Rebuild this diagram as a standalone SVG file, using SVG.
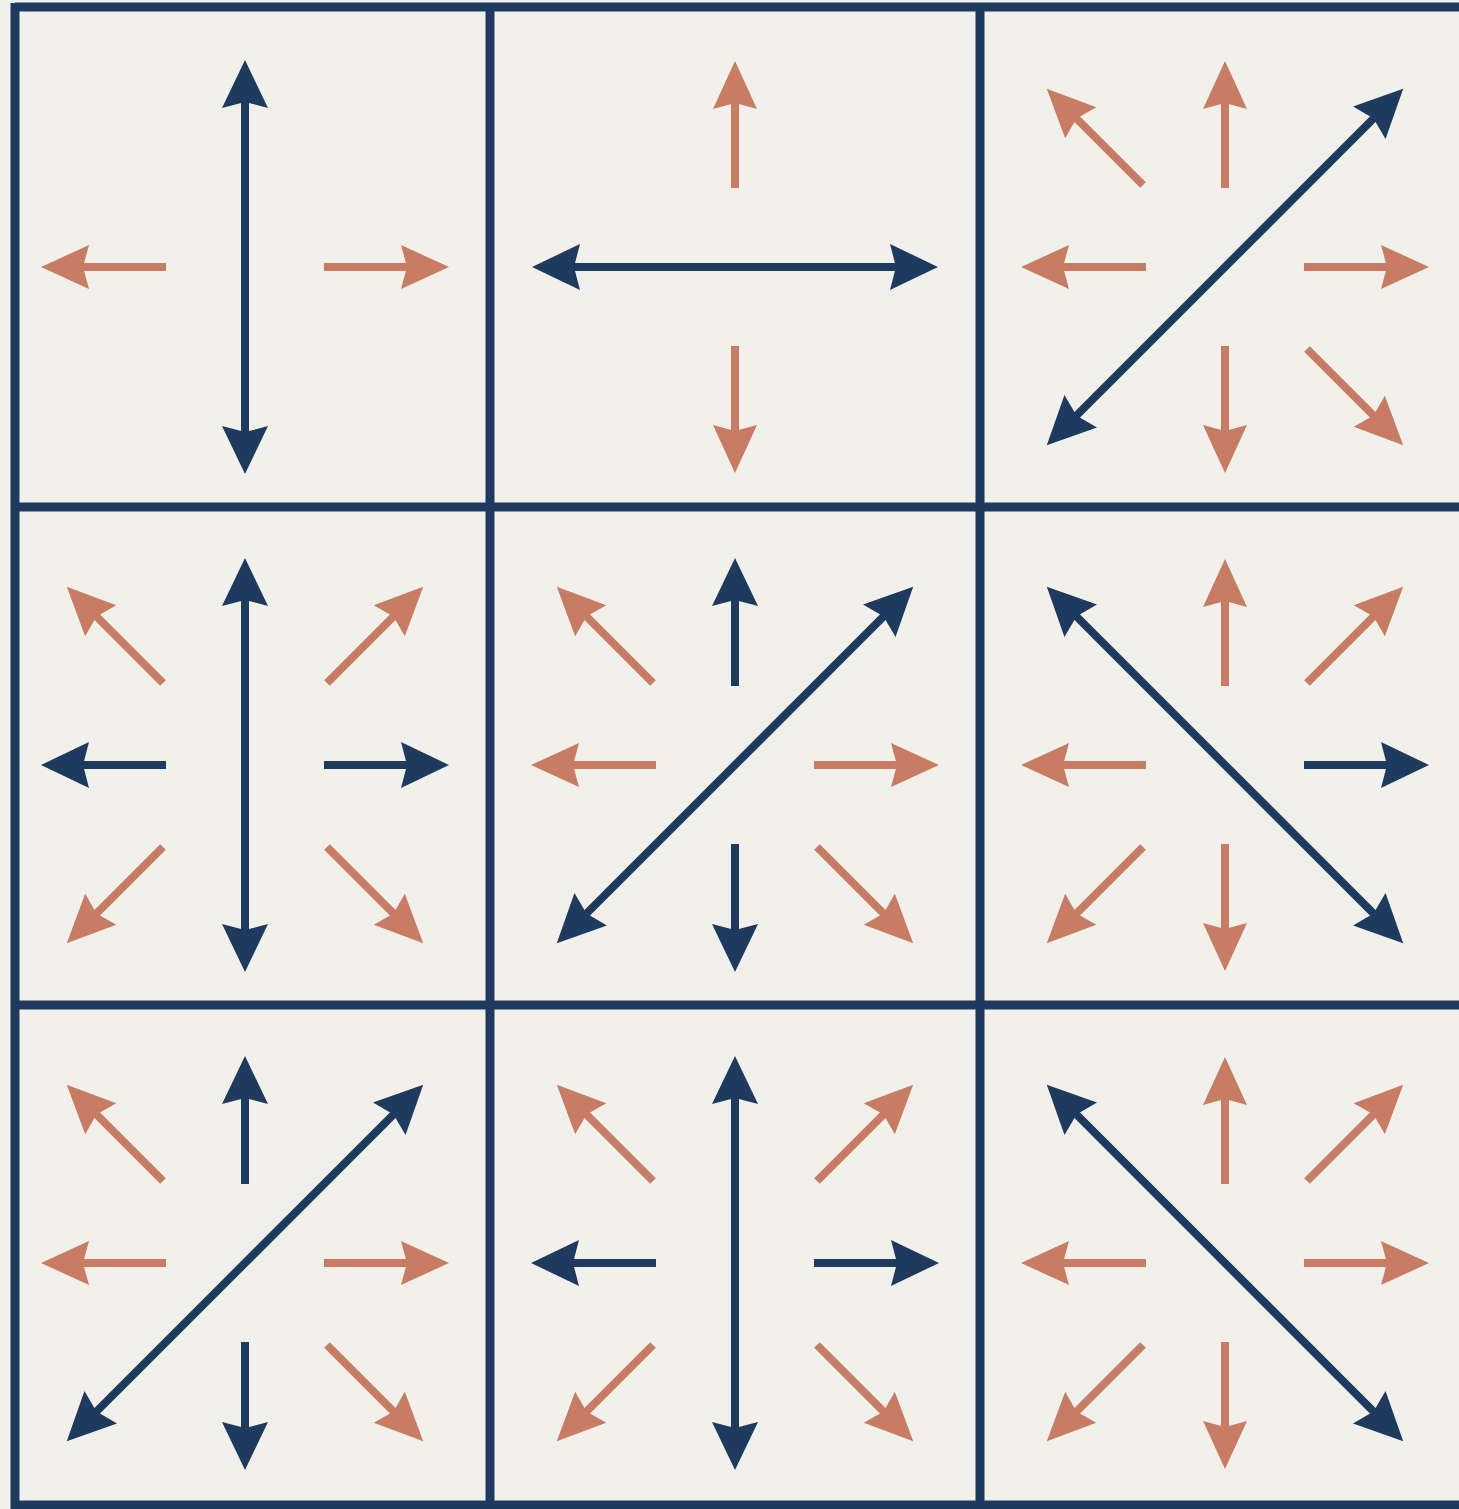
<svg xmlns="http://www.w3.org/2000/svg" width="1459" height="1509" viewBox="0 0 1459 1509">
<style>
.n{stroke:#1e3a5f;stroke-width:8;fill:none}
.o{stroke:#c97c64;stroke-width:8;fill:none}
.g{stroke:#1e3a5f;stroke-width:9;fill:none}
</style>
<defs>
<marker id="hn" markerUnits="userSpaceOnUse" markerWidth="80" markerHeight="80" viewBox="-40 -40 80 80" refX="0" refY="0" orient="auto-start-reverse" overflow="visible">
<path d="M30,0 L-18,-23 L-12,0 L-18,23 Z" fill="#1e3a5f"/>
</marker>
<marker id="ho" markerUnits="userSpaceOnUse" markerWidth="80" markerHeight="80" viewBox="-40 -40 80 80" refX="0" refY="0" orient="auto" overflow="visible">
<path d="M30,0 L-18,-22 L-12,0 L-18,22 Z" fill="#c97c64"/>
</marker>
<marker id="hns" markerUnits="userSpaceOnUse" markerWidth="80" markerHeight="80" viewBox="-40 -40 80 80" refX="0" refY="0" orient="auto" overflow="visible">
<path d="M30,0 L-18,-23 L-12,0 L-18,23 Z" fill="#1e3a5f"/>
</marker>
<!-- short spokes (orange) -->
<line id="oN" class="o" x1="0" y1="-79" x2="0" y2="-176" marker-end="url(#ho)"/>
<line id="oS" class="o" x1="0" y1="79" x2="0" y2="176" marker-end="url(#ho)"/>
<line id="oW" class="o" x1="-79" y1="0" x2="-174" y2="0" marker-end="url(#ho)"/>
<line id="oE" class="o" x1="79" y1="0" x2="174" y2="0" marker-end="url(#ho)"/>
<line id="oNW" class="o" x1="-82" y1="-82" x2="-157" y2="-157" marker-end="url(#ho)"/>
<line id="oNE" class="o" x1="82" y1="-82" x2="157" y2="-157" marker-end="url(#ho)"/>
<line id="oSW" class="o" x1="-82" y1="82" x2="-157" y2="157" marker-end="url(#ho)"/>
<line id="oSE" class="o" x1="82" y1="82" x2="157" y2="157" marker-end="url(#ho)"/>
<!-- short spokes (navy) -->
<line id="nN" class="n" x1="0" y1="-79" x2="0" y2="-177" marker-end="url(#hns)"/>
<line id="nS" class="n" x1="0" y1="79" x2="0" y2="177" marker-end="url(#hns)"/>
<line id="nW" class="n" x1="-79" y1="0" x2="-174" y2="0" marker-end="url(#hns)"/>
<line id="nE" class="n" x1="79" y1="0" x2="174" y2="0" marker-end="url(#hns)"/>
<!-- long double arrows -->
<line id="LV" class="n" x1="0" y1="-177" x2="0" y2="177" marker-start="url(#hn)" marker-end="url(#hn)"/>
<line id="LH" class="n" x1="-173" y1="0" x2="173" y2="0" marker-start="url(#hn)" marker-end="url(#hn)"/>
<line id="LD1" class="n" x1="-157" y1="157" x2="157" y2="-157" marker-start="url(#hn)" marker-end="url(#hn)"/>
<line id="LD2" class="n" x1="-157" y1="-157" x2="157" y2="157" marker-start="url(#hn)" marker-end="url(#hn)"/>
</defs>
<rect x="0" y="0" width="1459" height="1509" fill="#f1f0eb"/>
<g id="grid">
<line class="g" x1="15" y1="7" x2="1459" y2="7"/>
<line class="g" x1="15" y1="507" x2="1459" y2="507"/>
<line class="g" x1="15" y1="1005" x2="1459" y2="1005"/>
<line class="g" x1="15" y1="1505" x2="1459" y2="1505"/>
<line class="g" x1="15" y1="3" x2="15" y2="1509"/>
<line class="g" x1="490" y1="3" x2="490" y2="1509"/>
<line class="g" x1="980" y1="3" x2="980" y2="1509"/>
</g>
<g id="connectors">
<g id="cell1" transform="translate(245,267)">
<use href="#oW"/><use href="#oE"/><use href="#LV"/>
</g>
<g id="cell2" transform="translate(735,267)">
<use href="#oN"/><use href="#oS"/><use href="#LH"/>
</g>
<g id="cell3" transform="translate(1225,267)">
<use href="#oNW"/><use href="#oN"/><use href="#oW"/><use href="#oE"/><use href="#oS"/><use href="#oSE"/><use href="#LD1"/>
</g>
<g id="cell4" transform="translate(245,765)">
<use href="#oNW"/><use href="#oNE"/><use href="#oSW"/><use href="#oSE"/><use href="#nW"/><use href="#nE"/><use href="#LV"/>
</g>
<g id="cell5" transform="translate(735,765)">
<use href="#oNW"/><use href="#oW"/><use href="#oE"/><use href="#oSE"/><use href="#nN"/><use href="#nS"/><use href="#LD1"/>
</g>
<g id="cell6" transform="translate(1225,765)">
<use href="#oN"/><use href="#oNE"/><use href="#oW"/><use href="#oSW"/><use href="#oS"/><use href="#nE"/><use href="#LD2"/>
</g>
<g id="cell7" transform="translate(245,1263)">
<use href="#oNW"/><use href="#oW"/><use href="#oE"/><use href="#oSE"/><use href="#nN"/><use href="#nS"/><use href="#LD1"/>
</g>
<g id="cell8" transform="translate(735,1263)">
<use href="#oNW"/><use href="#oNE"/><use href="#oSW"/><use href="#oSE"/><use href="#nW"/><use href="#nE"/><use href="#LV"/>
</g>
<g id="cell9" transform="translate(1225,1263)">
<use href="#oN"/><use href="#oNE"/><use href="#oW"/><use href="#oE"/><use href="#oSW"/><use href="#oS"/><use href="#LD2"/>
</g>
</g>
</svg>
